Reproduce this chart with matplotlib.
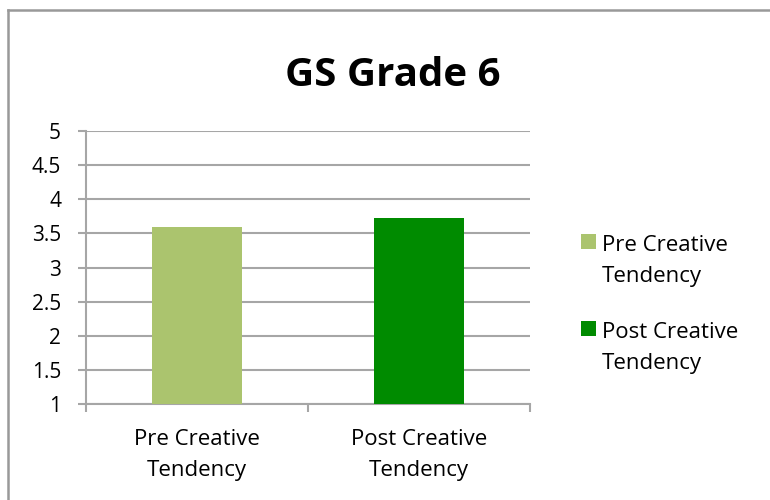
import matplotlib
matplotlib.use("Agg")
import matplotlib.pyplot as plt
from matplotlib.lines import Line2D
from matplotlib.patches import Rectangle

categories = ["Pre Creative\nTendency", "Post Creative\nTendency"]
values = [3.6, 3.73]
series_labels = ["Pre Creative\nTendency", "Post Creative\nTendency"]
colors = ["#ABC46E", "#008B00"]
yticks = [1, 1.5, 2, 2.5, 3, 3.5, 4, 4.5, 5]
ytick_labels = ["1", "1.5", "2", "2.5", "3", "3.5", "4", "4.5", "5"]
title = "GS Grade 6"

plt.rcParams['font.family'] = ['Open Sans', 'DejaVu Sans']

W, H = 770, 500
fig = plt.figure(figsize=(7.7, 5), dpi=100)
ax = fig.add_axes([86/W, 1-404/H, (530-86)/W, (404-131)/H])

x = list(range(len(categories)))
for i, (v, c, lab) in enumerate(zip(values, colors, series_labels)):
    ax.bar(i, v - 1, bottom=1, width=0.405, color=c, label=lab, zorder=3)

ax.set_xlim(-0.5, len(categories) - 0.5)
ax.set_ylim(1, 5)
ax.set_yticks(yticks)
ax.set_yticklabels(ytick_labels, fontsize=15)
ax.yaxis.grid(True, color="#A6A6A6", linewidth=1.5, zorder=0)
ax.set_axisbelow(True)

ax.set_xticks([-0.5, 0.5, 1.5])
ax.set_xticklabels([])
ax.set_xticks(x, minor=True)
ax.set_xticklabels(categories, minor=True, fontsize=16, linespacing=1.6)
ax.tick_params(axis='x', which='minor', length=0, pad=18)
ax.tick_params(axis='x', which='major', length=6, width=1.5, color="#A6A6A6", direction='out')
ax.tick_params(axis='y', length=6, width=1.5, color="#A6A6A6", direction='out', pad=12)

for s in ['top', 'right']:
    ax.spines[s].set_visible(False)
for s in ['left', 'bottom']:
    ax.spines[s].set_color("#A6A6A6")
    ax.spines[s].set_linewidth(1.5)

fig.text(393/W, 1-75/H, title, fontsize=29, fontweight='bold', ha='center', va='center')

# legend: square aligned with first line of each label
leg_top = [234, 321]
for top, c, lab in zip(leg_top, colors, series_labels):
    fig.add_artist(Rectangle((581/W, 1-(top+15)/H), 15/W, 15/H, transform=fig.transFigure,
                             facecolor=c, edgecolor='none'))
    fig.text(602/W, 1-(top+1)/H, lab, fontsize=16, ha='left', va='top', linespacing=1.6)

# frame lines of the chart area
fig.add_artist(Line2D([8/W, 8/W], [0, 1-10/H], transform=fig.transFigure, color="#999999", linewidth=1.8))
fig.add_artist(Line2D([8/W, 1], [1-10/H, 1-10/H], transform=fig.transFigure, color="#999999", linewidth=1.8))

fig.savefig("out.png", dpi=100, facecolor="white")
